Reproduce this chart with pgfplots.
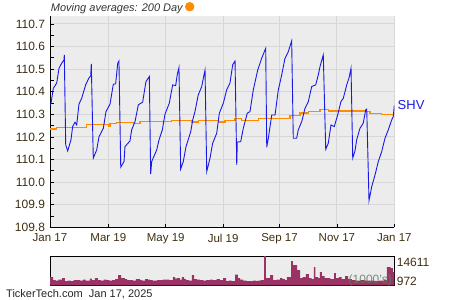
\documentclass[border=0pt]{standalone}
\usepackage{pgfplots}
\pgfplotsset{compat=1.18}
\usepackage{fontspec}
\setmainfont{Liberation Sans}
\definecolor{bgc}{RGB}{236,236,236}
\definecolor{gridc}{RGB}{215,215,215}
\definecolor{txtc}{RGB}{62,46,16}
\definecolor{shvblue}{RGB}{25,25,230}
\definecolor{maorange}{RGB}{255,140,0}
\definecolor{volc}{RGB}{155,50,100}
\definecolor{kc}{RGB}{95,125,95}
\begin{document}
\begin{tikzpicture}
\path[use as bounding box] (0,0) rectangle (450pt,300pt);
\begin{axis}[
  at={(50pt,72.7pt)}, anchor=south west, scale only axis,
  width=344.3pt, height=211.3pt,
  xmin=0, xmax=366, ymin=109.8, ymax=110.735,
  axis background/.style={fill=bgc},
  axis x line*=bottom, axis y line*=left,
  axis line style={black, line width=0.8pt, -},
  xtick={0,62,123,184,244,305,366},
  xticklabels={Jan 17,Mar 19,May 19,Jul 19,Sep 17,Nov 17,Jan 17},
  minor x tick num=1,
  ytick={109.8,109.9,110.0,110.1,110.2,110.3,110.4,110.5,110.6,110.7},
  yticklabels={109.8,109.9,110.0,110.1,110.2,110.3,110.4,110.5,110.6,110.7},
  minor y tick num=1,
  tick align=inside,
  major tick length=3.5pt, minor tick length=3.5pt,
  tick style={black, line width=0.7pt},
  grid=major, major grid style={gridc, line width=0.9pt},
  xticklabel style={font=\fontsize{11.5}{12}\selectfont, text=txtc, yshift=-3pt},
  yticklabel style={font=\fontsize{12}{12}\selectfont, text=txtc, xshift=-1.5pt},
  clip=true,
]
\addplot[const plot, maorange, line width=1.2pt] coordinates {
(0,110.235) (7.1,110.243) (39,110.256) (62,110.246) (63.8,110.258) (70.9,110.265)
(88.5,110.258) (95.7,110.268) (129.4,110.274) (150.6,110.266) (157.6,110.274)
(178.9,110.266) (186,110.274) (196.7,110.283) (203.8,110.274) (221.4,110.283)
(255.1,110.295) (265.8,110.306) (274.6,110.314) (287,110.323) (295.8,110.315)
(334.8,110.311) (340.2,110.305) (352.6,110.298) (366,110.298)
};
\addplot[shvblue, line width=0.9pt] coordinates {
(0,110.34) (1.1,110.349) (3.5,110.415) (7.1,110.438) (9.6,110.504) (12.4,110.526)
(14.9,110.541) (15.2,110.563) (16.7,110.165) (18.8,110.138) (22.3,110.187)
(24.1,110.246) (26.6,110.265) (28.4,110.253) (30.8,110.345) (33.7,110.371)
(37.9,110.430) (41.5,110.462) (43.3,110.47) (43.9,110.523) (46.0,110.106)
(49.6,110.142) (52.1,110.201) (56.7,110.238) (59.5,110.312) (63.8,110.345)
(67.3,110.433) (69.8,110.435) (72.0,110.526) (73.3,110.536) (75.2,110.066)
(78.7,110.091) (79.7,110.157) (85.0,110.182) (86.8,110.231) (90.4,110.268)
(93.9,110.342) (98.5,110.354) (102.0,110.445) (105.6,110.467) (107.0,110.035)
(108.1,110.091) (113.4,110.142) (115.9,110.187) (119.4,110.231) (122.2,110.30)
(126.8,110.349) (130.4,110.430) (133.6,110.427) (135.3,110.477) (137.1,110.507)
(138.9,110.058) (141.7,110.091) (144.6,110.157) (149.6,110.223) (151.7,110.275)
(154.1,110.312) (157.6,110.386) (161.3,110.423) (163.0,110.460) (164.8,110.496)
(166.6,110.046) (170.1,110.106) (172.9,110.172) (177.2,110.216) (180.0,110.305)
(184.2,110.349) (187.8,110.408) (191.3,110.438) (194.2,110.519) (196.7,110.536)
(198.5,110.076) (199.1,110.177) (202.7,110.179) (205.5,110.238) (209.7,110.305)
(212.6,110.312) (216.1,110.408) (220.8,110.496) (225.0,110.548) (229.3,110.592)
(230.4,110.154) (232.1,110.194) (235.7,110.297) (239.2,110.297) (242.7,110.408)
(246.3,110.474) (249.8,110.548) (253.3,110.577) (256.9,110.625) (258.6,110.194)
(262.2,110.194) (263.9,110.231) (267.6,110.268) (271.1,110.327) (274.6,110.356)
(278.2,110.423) (282.4,110.430) (285.2,110.474) (287.0,110.511) (290.5,110.563)
(293.1,110.145) (295.8,110.172) (298.7,110.253) (302.2,110.246) (305.8,110.297)
(309.3,110.356) (311.8,110.371) (315.4,110.430) (317.8,110.460) (320.0,110.504)
(321.8,110.106) (324.2,110.138) (326.0,110.187) (329.5,110.238) (333.0,110.261)
(335.6,110.320) (336.7,110.323) (339.1,109.918) (342.0,109.980) (345.5,110.032)
(349.0,110.091) (352.6,110.135) (356.1,110.194) (359.6,110.231) (363.2,110.275)
(364.9,110.290) (366.0,110.339)
};
\end{axis}
\begin{axis}[
  at={(50pt,14.7pt)}, anchor=south west, scale only axis,
  width=344.3pt, height=29.3pt,
  xmin=0, xmax=366, ymin=0, ymax=14611,
  axis background/.style={fill=bgc},
  ticks=none, axis line style={black, line width=1pt},
]
\addplot[const plot, fill=volc, draw=none] coordinates {
(0,4030) (3.2,2520) (6,2270) (9,2770) (12.8,3530) (15.9,2020) (19,2270) (22,2020)
(25,2520) (28.7,2520) (32,2270) (35,2770) (38,2270) (42.5,3280) (44.6,2520)
(47.8,3530) (51,2520) (54,2270) (57,2770) (60,2520) (63,2270) (66,2520) (69.1,3020)
(72.3,5040) (75.5,3530) (79.7,3020) (82,2520) (85,2520) (88,2270) (91.4,3020)
(95.7,2520) (98,2270) (101,3020) (104,2770) (106.3,2520) (109,2270) (111.6,2270)
(114,2520) (116.9,2520) (120,2770) (123.3,2770) (127,2520) (130.7,4030) (133,3280)
(135,3530) (138,2770) (140.3,4030) (142.5,3020) (144.6,2520) (148,2270) (150.9,5040)
(153.1,3020) (156,2770) (159.5,2520) (163,2270) (166,2520) (170.1,2770) (173,2520)
(177,3020) (180.7,2520) (183.9,3530) (187.1,2020) (190,2270) (193,2020) (196.7,5290)
(199.8,3530) (202,2770) (205.2,2270) (209,2020) (212.6,2020) (216,2270) (219,2020)
(221.1,2270) (224,2520) (227.5,14611) (229.6,3530) (233.9,5040) (237.1,2520)
(241,2770) (244.5,3530) (247,3020) (249.8,2520) (251.9,4030) (256.2,12100)
(258.3,10080) (262.6,7560) (265.8,3530) (268.5,4030) (272.1,5540) (275.3,3530)
(278,3020) (280.6,9070) (282.2,4030) (285,3530) (287,6550) (289.1,4540) (292,3530)
(294.5,3530) (298,3020) (301.9,6050) (304,3530) (307,4030) (310,3020) (313.6,4540)
(316.8,3020) (321,2520) (325,2270) (330,2520) (335,2270) (340.2,2270) (345,2020)
(350,2270) (355,2520) (358.2,9070) (362,8570) (364.6,6550) (366,6550)
} \closedcycle;
\end{axis}
% annotations
\node[anchor=west, inner sep=0pt, text=shvblue, font=\fontsize{13}{13}\selectfont] at (397.5pt,195pt) {SHV};
\node[anchor=west, inner sep=0pt, text=txtc, font=\fontsize{12}{12}\selectfont] at (396.7pt,37.5pt) {14611};
\node[anchor=west, inner sep=0pt, text=txtc, font=\fontsize{12}{12}\selectfont] at (396.7pt,18.3pt) {972};
\node[anchor=east, inner sep=0pt, text=kc, opacity=0.85, font=\fontsize{12}{12}\selectfont] at (392pt,20pt) {(1000's)};
\node[anchor=west, inner sep=0pt, text=black!85, font=\fontsize{11}{11}\selectfont] at (6pt,5.7pt) {TickerTech.com\ \ Jan 17, 2025};
\node[anchor=west, inner sep=0pt, text=black!80, font=\itshape\fontsize{11}{11}\selectfont] at (50.7pt,291.7pt) {Moving averages: 200 Day};
\fill[maorange] (189.7pt,293.3pt) circle (4.7pt);
\end{tikzpicture}
\end{document}
